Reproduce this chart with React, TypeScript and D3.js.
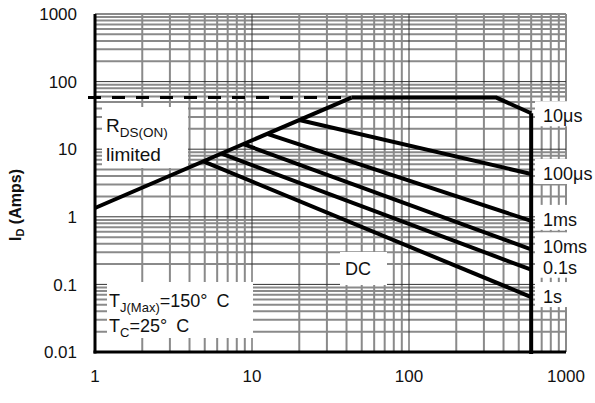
import React from 'react';
import * as d3 from 'd3';

// axis decades
const xTicks = [1, 10, 100, 1000];
const yTicks = [0.01, 0.1, 1, 10, 100, 1000];
const xTickLabels = ['1', '10', '100', '1000'];
const yTickLabels = ['0.01', '0.1', '1', '10', '100', '1000'];

// RDS(on) limit line and peak current limit (Amps)
const rdsLine: [number, number][] = [[1, 1.35], [43, 58]];
const idMax = 58;
const vdsMax = 600;

// pulse-width curves, [V, A]
const curveNames = ['10μs', '100μs', '1ms', '10ms', '0.1s', '1s'];
const curve10us: [number, number][] = [[43, 58], [360, 58], [600, 34]];
const curve100us: [number, number][] = [[20, 27], [600, 4.3]];
const curve1ms: [number, number][] = [[12.5, 16.9], [600, 0.87]];
const curve10ms: [number, number][] = [[8.8, 11.9], [600, 0.33]];
const curve01s: [number, number][] = [[6.4, 8.6], [600, 0.165]];
const curve1s: [number, number][] = [[4.9, 6.6], [600, 0.065]];
const curves = [curve10us, curve100us, curve1ms, curve10ms, curve01s, curve1s];

const W = 595;
const H = 403;
const left = 95, right = 566, top = 14, bottom = 352;
const font = 'Liberation Sans, Arial, sans-serif';

export default function App() {
  const x = d3.scaleLog().domain([1, 1000]).range([left, right]);
  const y = d3.scaleLog().domain([0.01, 1000]).range([bottom, top]);
  const line = d3.line<[number, number]>().x(d => x(d[0])).y(d => y(d[1]));

  // minor grid values
  const xMinor: number[] = [];
  for (let d = 1; d < 1000; d *= 10) for (let m = 2; m <= 9; m++) xMinor.push(d * m);
  const yMinor: number[] = [];
  for (let d = 0.01; d < 999; d *= 10) for (let m = 2; m <= 9; m++) yMinor.push(d * m);

  // label placement below each curve end (px)
  const labelDy = [9, 6, 5, 4, 4, 6];
  const ends = curves.map(c => c[c.length - 1][1]);

  return (
    <div style={{ position: 'absolute', left: 0, top: 0 }}>
      <svg width={W} height={H} style={{ display: 'block', background: '#fff' }}>
        {/* minor grid */}
        <g stroke="#8a8a8a" strokeWidth={2}>
          {xMinor.map(v => (
            <line key={'xm' + v} x1={x(v)} x2={x(v)} y1={top} y2={bottom} />
          ))}
          {yMinor.map(v => (
            <line key={'ym' + v} x1={left} x2={right} y1={y(v)} y2={y(v)} />
          ))}
          <line x1={left} x2={right} y1={top} y2={top} />
          <line x1={right} x2={right} y1={top} y2={bottom} />
        </g>
        {/* decade lines */}
        <g stroke="#333" strokeWidth={1}>
          {xTicks.slice(1, -1).map(v => (
            <line key={'xd' + v} x1={x(v)} x2={x(v)} y1={top} y2={bottom} />
          ))}
          {yTicks.slice(1, -1).map(v => (
            <line key={'yd' + v} x1={left} x2={right} y1={y(v)} y2={y(v)} />
          ))}
        </g>

        {/* white label backgrounds */}
        <g fill="#fff">
          <rect x={102} y={107} width={86} height={61} />
          <rect x={107} y={282} width={146} height={56} />
          <rect x={340} y={252} width={47} height={33} />
          {ends.map((v, i) => (
            <rect key={'lb' + i} x={535} y={y(v) + labelDy[i] - 21} width={60} height={25} />
          ))}
        </g>

        {/* current limit dashed line */}
        <line x1={left - 7} x2={x(rdsLine[1][0])} y1={y(idMax)} y2={y(idMax)}
          stroke="#000" strokeWidth={3} strokeDasharray="13,11" />

        {/* SOA curves */}
        <g fill="none" stroke="#000" strokeWidth={4} strokeLinejoin="miter">
          <path d={line(rdsLine) || ''} />
          {curves.map((c, i) => (
            <path key={'c' + i} d={line(c) || ''} />
          ))}
          <line x1={x(vdsMax)} x2={x(vdsMax)} y1={y(curve10us[2][1])} y2={bottom + 2} />
        </g>

        {/* axes */}
        <g stroke="#000" strokeWidth={3}>
          <line x1={left} x2={left} y1={top} y2={bottom + 1.5} />
          <line x1={left - 1.5} x2={right} y1={bottom} y2={bottom} />
        </g>

        {/* tick labels */}
        <g fontFamily={font} fontSize={17} fill="#111">
          {yTicks.map((v, i) => (
            <text key={'yt' + v} x={77} y={y(v)} dy="0.36em" textAnchor="end">{yTickLabels[i]}</text>
          ))}
          {xTicks.map((v, i) => (
            <text key={'xt' + v} x={x(v)} y={382} textAnchor="middle">{xTickLabels[i]}</text>
          ))}
        </g>

        {/* y axis title */}
        <text transform="translate(21,205) rotate(-90)" fontFamily={font} fontSize={16}
          fontWeight="bold" textAnchor="middle" fill="#111">
          I<tspan fontSize={11} dy={3}>D</tspan><tspan dy={-3}> (Amps)</tspan>
        </text>

        {/* annotations */}
        <g fontFamily={font} fill="#111">
          <text x={106} y={132} fontSize={19}>
            R<tspan fontSize={13.5} dy={5}>DS(ON)</tspan>
          </text>
          <text x={106} y={161} fontSize={19}>limited</text>
          <text x={109} y={307} fontSize={18}>
            T<tspan fontSize={13} dy={5}>J(Max)</tspan><tspan dy={-5}>=150°</tspan><tspan dx={9}>C</tspan>
          </text>
          <text x={109} y={332} fontSize={18}>
            T<tspan fontSize={13} dy={5}>C</tspan><tspan dy={-5}>=25°</tspan><tspan dx={9}>C</tspan>
          </text>
          <text x={345} y={275} fontSize={18}>DC</text>
          {curveNames.map((n, i) => (
            <text key={'cn' + i} x={543} y={y(ends[i]) + labelDy[i]} fontSize={18}>{n}</text>
          ))}
        </g>
      </svg>
    </div>
  );
}
